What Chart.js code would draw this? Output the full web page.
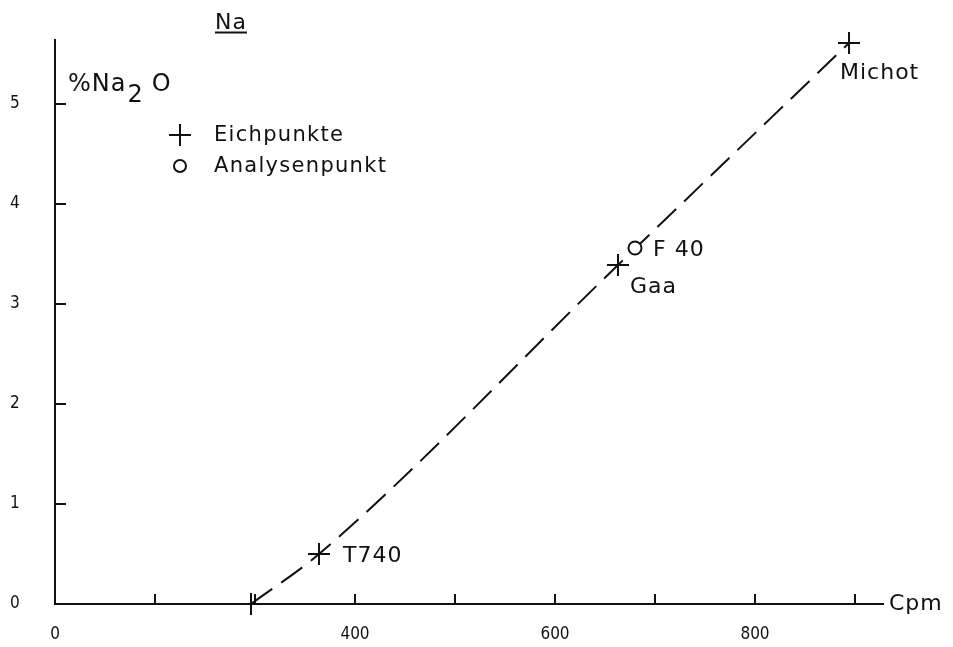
<!DOCTYPE html>
<html>
<head>
<meta charset="utf-8">
<script src="https://cdn.jsdelivr.net/npm/chart.js@4"></script>
<style>
  html, body { margin: 0; padding: 0; background: #fff; }
  #box { width: 953px; height: 647px; position: relative; }
</style>
</head>
<body>
<div id="box"><canvas id="grafico"></canvas></div>
<script>
// Eichpunkte (Kalibrierproben)
const eichNamen = ['', 'T740', 'Gaa', 'Michot'];
const eichCpm = [296, 364, 663, 894];
const eichNa2O = [0, 0.5, 3.39, 5.61];

// Analysenpunkt
const analyseNamen = ['F 40'];
const analyseCpm = [680];
const analyseNa2O = [3.56];

// Achsen (x-Achse unterbrochen: Ursprung als "0" beschriftet)
const xTicks = [100, 200, 300, 400, 500, 600, 700, 800, 900];
const xTickLabels = ['0', '', '', '400', '', '600', '', '800', ''];
const yTicks = [0, 1, 2, 3, 4, 5];

const schrift = '"DejaVu Sans", sans-serif';
const schriftSchmal = '"DejaVu Sans Condensed", "Liberation Sans Narrow", sans-serif';

// Versatz der Punktbeschriftungen (Pixel)
const eichLabelOffset = [[0, 0], [24, 2], [12, 22], [-9, 30]];
const analyseLabelOffset = [[18, 2]];

const eichDaten = eichCpm.map((x, i) => ({ x: x, y: eichNa2O[i] }));
const analyseDaten = analyseCpm.map((x, i) => ({ x: x, y: analyseNa2O[i] }));

// Plugin für Texte, Legende und innere Teilstriche
const beschriftung = {
    id: 'beschriftung',
    afterDraw(chart) {
        const ctx = chart.ctx;
        const xs = chart.scales.x;
        const ys = chart.scales.y;
        ctx.save();
        ctx.strokeStyle = '#111';
        ctx.fillStyle = '#111';
        ctx.lineWidth = 2;

        // Teilstriche nach innen
        const y0 = ys.getPixelForValue(0);
        xTicks.slice(1).forEach(v => {
            const px = xs.getPixelForValue(v);
            ctx.beginPath();
            ctx.moveTo(px, y0);
            ctx.lineTo(px, y0 - 10);
            ctx.stroke();
        });
        const x0 = xs.getPixelForValue(xs.min);
        yTicks.slice(1).forEach(v => {
            const py = ys.getPixelForValue(v);
            ctx.beginPath();
            ctx.moveTo(x0, py);
            ctx.lineTo(x0 + 11, py);
            ctx.stroke();
        });

        ctx.letterSpacing = '1px';

        // Titel "Na" unterstrichen
        ctx.font = '22px ' + schrift;
        ctx.textBaseline = 'alphabetic';
        ctx.textAlign = 'left';
        ctx.fillText('Na', 215, 29);
        const wNa = ctx.measureText('Na').width;
        ctx.beginPath();
        ctx.moveTo(215, 32.5);
        ctx.lineTo(215 + wNa, 32.5);
        ctx.stroke();

        // Achsentitel %Na2O
        let cx = 68;
        ctx.font = '24px ' + schrift;
        ctx.fillText('%Na', cx, 91);
        cx += ctx.measureText('%Na').width + 1;
        ctx.fillText('2', cx, 102);
        cx += ctx.measureText('2').width + 8;
        ctx.fillText('O', cx, 91);

        // Cpm
        ctx.textBaseline = 'middle';
        ctx.font = '22px ' + schrift;
        ctx.fillText('Cpm', 889, y0);

        // Legende
        ctx.lineWidth = 2;
        ctx.beginPath();
        ctx.moveTo(169, 135); ctx.lineTo(191, 135);
        ctx.moveTo(180, 124); ctx.lineTo(180, 146);
        ctx.stroke();
        ctx.beginPath();
        ctx.arc(180, 166, 6, 0, Math.PI * 2);
        ctx.stroke();
        ctx.letterSpacing = '1.3px';
        ctx.font = '21px ' + schrift;
        ctx.fillText('Eichpunkte', 214, 136);
        ctx.fillText('Analysenpunkt', 214, 167);

        // Punktbeschriftungen
        ctx.letterSpacing = '1px';
        ctx.font = '22px ' + schrift;
        eichDaten.forEach((p, i) => {
            if (!eichNamen[i]) return;
            const px = xs.getPixelForValue(p.x);
            const py = ys.getPixelForValue(p.y);
            ctx.fillText(eichNamen[i], px + eichLabelOffset[i][0], py + eichLabelOffset[i][1]);
        });
        analyseDaten.forEach((p, i) => {
            const px = xs.getPixelForValue(p.x);
            const py = ys.getPixelForValue(p.y);
            ctx.fillText(analyseNamen[i], px + analyseLabelOffset[i][0], py + analyseLabelOffset[i][1]);
        });
        ctx.restore();
    }
};

const ctx = document.getElementById('grafico').getContext('2d');
new Chart(ctx, {
    type: 'scatter',
    data: {
        datasets: [
            {
                label: 'Eichkurve',
                data: eichDaten,
                showLine: true,
                borderColor: '#111',
                borderWidth: 2,
                borderDash: [26, 11],
                cubicInterpolationMode: 'monotone',
                pointRadius: 0,
                clip: false,
                order: 3
            },
            {
                label: 'Eichpunkte',
                data: eichDaten,
                pointStyle: 'cross',
                pointRadius: 11,
                pointBorderWidth: 2,
                pointBorderColor: '#111',
                showLine: false,
                clip: false,
                order: 1
            },
            {
                label: 'Analysenpunkt',
                data: analyseDaten,
                pointStyle: 'circle',
                pointRadius: 6.5,
                pointBorderWidth: 2,
                pointBorderColor: '#111',
                pointBackgroundColor: '#fff',
                showLine: false,
                clip: false,
                order: 2
            }
        ]
    },
    options: {
        responsive: true,
        maintainAspectRatio: false,
        animation: false,
        layout: { padding: { top: 40, right: 70, left: 10, bottom: 0 } },
        plugins: {
            legend: { display: false },
            tooltip: { enabled: false }
        },
        scales: {
            x: {
                type: 'linear',
                min: 100,
                max: 928,
                afterBuildTicks: scale => { scale.ticks = xTicks.map(v => ({ value: v })); },
                afterFit: scale => { scale.height = 43; },
                grid: { display: false, drawTicks: false },
                border: { display: true, color: '#111', width: 2 },
                ticks: {
                    color: '#111',
                    font: { family: schriftSchmal, size: 17 },
                    padding: 20,
                    maxRotation: 0,
                    autoSkip: false,
                    callback: (v, i) => xTickLabels[xTicks.indexOf(v)] ?? ''
                }
            },
            y: {
                type: 'linear',
                min: 0,
                max: 5.64,
                afterBuildTicks: scale => { scale.ticks = yTicks.map(v => ({ value: v })); },
                afterFit: scale => { scale.width = 45; },
                grid: { display: false, drawTicks: false },
                border: { display: true, color: '#111', width: 2 },
                ticks: {
                    color: '#111',
                    font: { family: schriftSchmal, size: 17 },
                    crossAlign: 'far',
                    autoSkip: false,
                    callback: v => String(v)
                }
            }
        }
    },
    plugins: [beschriftung]
});
</script>
</body>
</html>
